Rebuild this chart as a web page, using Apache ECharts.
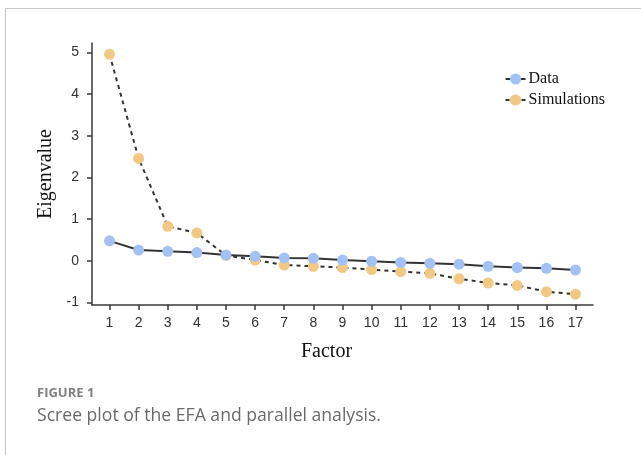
<!DOCTYPE html>
<html>
<head>
<meta charset="utf-8">
<script src="https://cdn.jsdelivr.net/npm/echarts@6/dist/echarts.min.js"></script>
<style>
  html, body { margin: 0; padding: 0; background: #fff; }
  #chart { position: absolute; left: 0; top: 0; width: 641px; height: 455px; }
  .frame {
    position: absolute; left: 5px; top: 8px; width: 700px; height: 500px;
    border-left: 1px solid #c8c8c8; border-top: 1px solid #c8c8c8;
    pointer-events: none;
  }
</style>
</head>
<body>
<div id="chart"></div>
<div class="frame"></div>
<script>
const factors = [1, 2, 3, 4, 5, 6, 7, 8, 9, 10, 11, 12, 13, 14, 15, 16, 17]
const dataValues = [0.48, 0.26, 0.23, 0.20, 0.14, 0.11, 0.07, 0.06, 0.02, -0.01, -0.04, -0.06, -0.08, -0.13, -0.16, -0.18, -0.22]
const simValues = [4.96, 2.46, 0.83, 0.67, 0.13, 0.02, -0.10, -0.13, -0.16, -0.21, -0.26, -0.30, -0.43, -0.53, -0.59, -0.74, -0.80]
const yTicks = [-1, 0, 1, 2, 3, 4, 5]

const axisColor = '#3a3a3a'
const tickFont = { fontFamily: 'Liberation Sans', fontSize: 14, color: '#333' }

const chart = echarts.init(document.getElementById('chart'))
chart.setOption({
  animation: false,
  title: {
    text: 'FIGURE 1',
    subtext: 'Scree plot of the EFA and parallel analysis.',
    left: 32,
    top: 382,
    itemGap: 7,
    textStyle: { fontFamily: 'Open Sans', fontSize: 13, fontWeight: 'bold', color: '#808080' },
    subtextStyle: { fontFamily: 'Open Sans', fontSize: 17.6, color: '#6a6a6a' }
  },
  legend: {
    right: 31,
    top: 66,
    orient: 'vertical',
    itemGap: 5,
    itemWidth: 20,
    itemHeight: 14,
    textStyle: { fontFamily: 'Liberation Serif', fontSize: 16, color: '#111', padding: [0, 0, 0, -2] },
    data: ['Data', 'Simulations']
  },
  grid: { left: 92, right: 48, top: 43, bottom: 150 },
  xAxis: {
    type: 'value',
    min: 0.4,
    max: 17.6,
    name: 'Factor',
    nameLocation: 'middle',
    nameGap: 37,
    nameTextStyle: { fontFamily: 'Liberation Serif', fontSize: 20, color: '#111', padding: [0, 32, 0, 0] },
    splitLine: { show: false },
    axisLine: { onZero: false, lineStyle: { color: axisColor, width: 1.5 } },
    axisTick: { customValues: factors, length: 5, lineStyle: { color: axisColor, width: 1.5 } },
    axisLabel: Object.assign({ customValues: factors, margin: 11 }, tickFont)
  },
  yAxis: {
    type: 'value',
    min: -1.06,
    max: 5.23,
    name: 'Eigenvalue',
    nameLocation: 'middle',
    nameGap: 29,
    nameTextStyle: { fontFamily: 'Liberation Serif', fontSize: 20, color: '#111' },
    splitLine: { show: false },
    axisLine: { show: true, onZero: false, lineStyle: { color: axisColor, width: 1.5 } },
    axisTick: { show: true, customValues: yTicks, length: 5, lineStyle: { color: axisColor, width: 1.5 } },
    axisLabel: Object.assign({ customValues: yTicks, margin: 13 }, tickFont)
  },
  series: [
    {
      name: 'Data',
      type: 'line',
      data: factors.map((f, i) => [f, dataValues[i]]),
      symbol: 'circle',
      symbolSize: 11,
      itemStyle: { color: '#a3c2f3' },
      lineStyle: { color: '#333', width: 2 },
      z: 3
    },
    {
      name: 'Simulations',
      type: 'line',
      data: factors.map((f, i) => [f, simValues[i]]),
      symbol: 'circle',
      symbolSize: 11,
      itemStyle: { color: '#f2c984' },
      lineStyle: { color: '#333', width: 2, type: [4, 4] },
      z: 2
    }
  ]
})
</script>
</body>
</html>
